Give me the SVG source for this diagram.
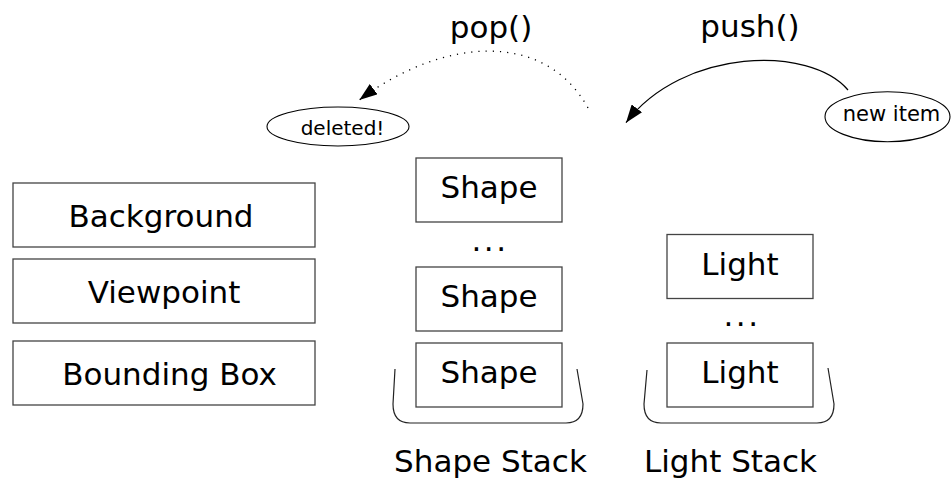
<svg xmlns="http://www.w3.org/2000/svg" width="951" height="480" viewBox="0 0 951 480">
  <style>
    text { font-family: "DejaVu Sans", Verdana, sans-serif; fill: #000; }
    .lbl { font-size: 31px; text-anchor: middle; }
    .small { font-size: 20px; text-anchor: middle; }
    .box { fill: #fff; stroke: #444; stroke-width: 1.3; }
    .oval { fill: #fff; stroke: #000; stroke-width: 1.1; }
    .bracket { fill: none; stroke: #222; stroke-width: 1.2; }
    .dots { font-size: 31px; letter-spacing: 2.5px; }
  </style>
  <defs>
    <marker id="head" viewBox="0 0 18 13" markerWidth="18" markerHeight="13" refX="18" refY="6.5" orient="auto" markerUnits="userSpaceOnUse">
      <path d="M0,0 L18,6.5 L0,13 Z" fill="#000"/>
    </marker>
  </defs>

  <rect width="951" height="480" fill="#fff"/>

  <!-- scene-wide singletons -->
  <g id="background">
    <rect class="box" x="13" y="183" width="302" height="64"/>
    <text class="lbl" x="161" y="226.5">Background</text>
  </g>
  <g id="viewpoint">
    <rect class="box" x="13" y="259" width="302" height="64"/>
    <text class="lbl" x="164" y="302.5">Viewpoint</text>
  </g>
  <g id="bounding-box">
    <rect class="box" x="13" y="341" width="302" height="64"/>
    <text class="lbl" x="169.5" y="385">Bounding Box</text>
  </g>

  <!-- shape stack -->
  <g id="shape-top">
    <rect class="box" x="416" y="158" width="146" height="64"/>
    <text class="lbl" x="489" y="197.5">Shape</text>
  </g>
  <text class="dots" x="471.5" y="250.5">...</text>
  <g id="shape-mid">
    <rect class="box" x="416" y="267" width="146" height="64"/>
    <text class="lbl" x="489" y="306.5">Shape</text>
  </g>
  <g id="shape-bottom">
    <rect class="box" x="416" y="343" width="146" height="64"/>
    <text class="lbl" x="489" y="382.5">Shape</text>
  </g>
  <g id="shape-stack">
    <path class="bracket" d="M395,369 L393,404 Q393,423 410,423 L566,423 Q583,423 583,404 L577,369"/>
    <text class="lbl" x="490.5" y="472">Shape Stack</text>
  </g>

  <!-- light stack -->
  <g id="light-top">
    <rect class="box" x="667" y="234.5" width="146" height="64"/>
    <text class="lbl" x="740" y="275">Light</text>
  </g>
  <text class="dots" x="723.5" y="325.5">...</text>
  <g id="light-bottom">
    <rect class="box" x="667" y="343" width="146" height="64"/>
    <text class="lbl" x="740" y="383">Light</text>
  </g>
  <g id="light-stack">
    <path class="bracket" d="M647,370 L644,404 Q644,423 661,423 L817,423 Q834,423 834,404 L828,368"/>
    <text class="lbl" x="730.5" y="472">Light Stack</text>
  </g>

  <!-- operations -->
  <g id="deleted">
    <ellipse class="oval" cx="338" cy="126.5" rx="71" ry="19.5"/>
    <text class="small" x="342.5" y="134.5">deleted!</text>
  </g>
  <g id="new-item">
    <ellipse class="oval" cx="887.5" cy="116.7" rx="62.5" ry="25"/>
    <text class="small" x="891.5" y="121" style="font-size:21px">new item</text>
  </g>
  <text class="lbl" x="491" y="37.5">pop()</text>
  <text class="lbl" x="750" y="37">push()</text>

  <g id="connectors">
    <path d="M588,108 C545,30 443,37 359.3,100" fill="none" stroke="#000" stroke-width="1.3" stroke-dasharray="1.2 6" marker-end="url(#head)"/>
    <path d="M848,90 C810,45 682.5,48 626,122.7" fill="none" stroke="#000" stroke-width="1.2" marker-end="url(#head)"/>
  </g>
</svg>
